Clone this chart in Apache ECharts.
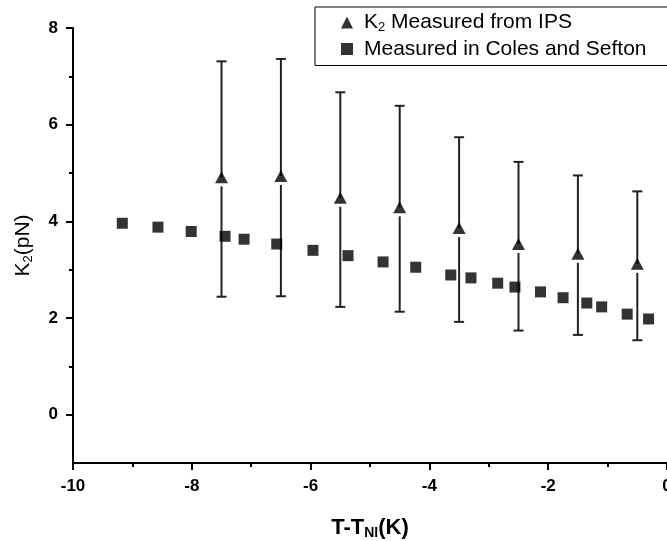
<!DOCTYPE html>
<html><head><meta charset="utf-8">
<script src="https://cdn.jsdelivr.net/npm/echarts@6/dist/echarts.min.js"></script>
<style>html,body{margin:0;padding:0;background:#fff}#c{width:667px;height:541px}</style>
</head><body><div id="c"></div>
<script>
// Coles and Sefton data
const colesX = [-9.17,-8.57,-8.01,-7.44,-7.12,-6.57,-5.96,-5.37,-4.78,-4.23,-3.64,-3.30,-2.85,-2.56,-2.13,-1.75,-1.35,-1.10,-0.67,-0.31];
const colesY = [3.96,3.88,3.79,3.69,3.63,3.53,3.40,3.29,3.16,3.05,2.89,2.83,2.72,2.64,2.54,2.42,2.31,2.23,2.08,1.98];
// IPS data with error bars
const ipsX = [-7.5,-6.5,-5.5,-4.5,-3.5,-2.5,-1.5,-0.5];
const ipsY = [4.91,4.94,4.49,4.29,3.86,3.53,3.33,3.12];
const ipsLow = [2.44,2.45,2.23,2.13,1.92,1.74,1.65,1.54];
const ipsHigh = [7.31,7.36,6.67,6.39,5.74,5.23,4.95,4.62];
const yMajor = [0,2,4,6,8];
const yMinor = [1,3,5,7];

const FONT = 'Liberation Sans, Arial, sans-serif';
const chart = echarts.init(document.getElementById('c'));
const option = {
  animation:false,
  backgroundColor:'#fff',
  grid:{left:73, right:0, top:28, bottom:78, containLabel:false, outerBoundsMode:'none'},
  legend:{
    data:['IPS','Coles'],
    orient:'vertical', left:315, top:7,
    padding:[5,60,6,26],
    itemGap:5,
    itemWidth:12, itemHeight:12,
    borderColor:'#000', borderWidth:1,
    textStyle:{fontFamily:FONT, fontSize:21, color:'#000', padding:[0,0,0,6],
      rich:{sub:{fontFamily:FONT, fontSize:13, color:'#000', verticalAlign:'bottom', padding:[9,0,0,0]}, n:{fontFamily:FONT, fontSize:21, color:'#000'}}},
    formatter:function(n){ return n==='IPS' ? '{n|K}{sub|2}{n| Measured from IPS}' : '{n|Measured in Coles and Sefton}'; }
  },
  xAxis:[
    {type:'value', min:-10, max:0, interval:2, position:'bottom',
     axisLine:{show:true, onZero:false, lineStyle:{color:'#000', width:2}},
     axisTick:{show:true, inside:false, length:7, lineStyle:{color:'#000', width:2}},
     axisLabel:{show:true, margin:15, fontFamily:FONT, fontWeight:'bold', fontSize:17, color:'#000'},
     splitLine:{show:false},
     minorTick:{show:true, splitNumber:2, length:4, lineStyle:{color:'#000', width:2}},
     name:'T-T{sub|NI}(K)', nameLocation:'middle', nameGap:52,
     nameTextStyle:{fontFamily:FONT, fontWeight:'bold', fontSize:22, color:'#000',
       rich:{sub:{fontFamily:FONT, fontWeight:'bold', fontSize:14, color:'#000', verticalAlign:'bottom', padding:[11,0,0,0]}}}
    }
  ],
  yAxis:[
    {type:'value', min:-1, max:8, position:'left',
     axisLine:{show:true, onZero:false, lineStyle:{color:'#000', width:2}},
     axisTick:{show:true, inside:false, length:7, customValues:yMajor, lineStyle:{color:'#000', width:2}},
     axisLabel:{show:true, margin:15, customValues:yMajor, fontFamily:FONT, fontWeight:'bold', fontSize:17, color:'#000'},
     splitLine:{show:false},
     name:'K{sub|2}(pN)', nameLocation:'middle', nameGap:38, nameRotate:90,
     nameTextStyle:{fontFamily:FONT, fontSize:21, color:'#000',
       rich:{sub:{fontFamily:FONT, fontSize:13, color:'#000', verticalAlign:'bottom', padding:[10,0,0,0]}}}
    },
    {type:'value', min:-1, max:8, position:'left',
     axisLine:{show:false, onZero:false},
     axisTick:{show:true, inside:false, length:4, customValues:yMinor, lineStyle:{color:'#000', width:2}},
     axisLabel:{show:false}, splitLine:{show:false}
    }
  ],
  series:[
    {type:'custom', name:'err', silent:true, z:1,
     data: ipsX.map((x,i)=>[x, ipsLow[i], ipsHigh[i], ipsY[i]]),
     renderItem:function(params, api){
       const top = api.coord([api.value(0), api.value(2)]);
       const bot = api.coord([api.value(0), api.value(1)]);
       const mid = api.coord([api.value(0), api.value(3)]);
       const cw = 5;
       const st = {stroke:'#222', lineWidth:2};
       return {type:'group', children:[
         {type:'line', shape:{x1:top[0], y1:top[1], x2:mid[0], y2:mid[1]}, style:st},
         {type:'line', shape:{x1:mid[0], y1:mid[1]+9, x2:bot[0], y2:bot[1]}, style:st},
         {type:'line', shape:{x1:top[0]-cw, y1:top[1], x2:top[0]+cw, y2:top[1]}, style:st},
         {type:'line', shape:{x1:bot[0]-cw, y1:bot[1], x2:bot[0]+cw, y2:bot[1]}, style:st}
       ]};
     }
    },
    {type:'scatter', name:'IPS', symbol:'triangle', symbolSize:[13,12], z:3,
     itemStyle:{color:'#000'},
     data: ipsX.map((x,i)=>[x, ipsY[i]])},
    {type:'scatter', name:'Coles', symbol:'rect', symbolSize:11, z:3,
     itemStyle:{color:'#000'},
     data: colesX.map((x,i)=>[x, colesY[i]])}
  ]
};
chart.setOption(option);
</script></body></html>
